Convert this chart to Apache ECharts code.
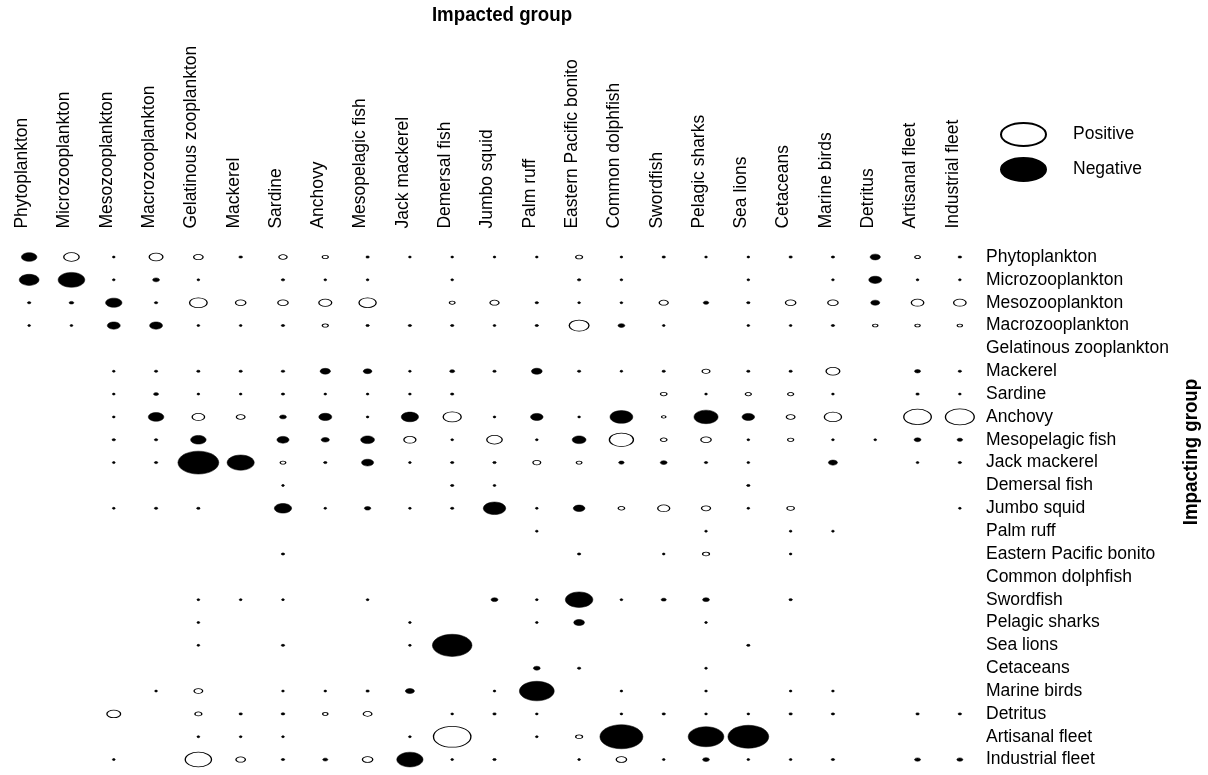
<!DOCTYPE html>
<html><head><meta charset="utf-8">
<script src="https://cdn.jsdelivr.net/npm/echarts@6/dist/echarts.min.js"></script>
<style>html,body{margin:0;padding:0;background:#fff}#c{width:1208px;height:775px}</style>
</head><body><div id="c"></div>
<script>
// Functional groups (impacted = columns, impacting = rows, same order)
const groups = ["Phytoplankton","Microzooplankton","Mesozooplankton","Macrozooplankton","Gelatinous zooplankton","Mackerel","Sardine","Anchovy","Mesopelagic fish","Jack mackerel","Demersal fish","Jumbo squid","Palm ruff","Eastern Pacific bonito","Common dolphfish","Swordfish","Pelagic sharks","Sea lions","Cetaceans","Marine birds","Detritus","Artisanal fleet","Industrial fleet"];

// Mixed trophic impact of each impacting group (row) on each impacted group (column)
const rowPhytoplankton   = [-0.36,0.36,-0.06,0.32,0.22,-0.09,0.19,0.14,-0.08,-0.06,-0.05,-0.06,-0.05,0.16,-0.05,-0.08,-0.06,-0.06,-0.08,-0.08,-0.24,0.13,-0.09];
const rowMicrozooplankton= [-0.46,-0.62,-0.05,-0.16,-0.05,0,-0.08,-0.05,-0.06,0,-0.06,0,0,-0.08,-0.05,0,0,-0.06,0,-0.06,-0.30,-0.06,-0.05];
const rowMesozooplankton = [-0.08,-0.11,-0.38,-0.08,0.41,0.24,0.24,0.30,0.40,0,0.13,0.21,-0.08,-0.06,-0.05,0.21,-0.13,-0.08,0.24,0.24,-0.21,0.29,0.29];
const rowMacrozooplankton= [-0.05,-0.05,-0.30,-0.30,-0.05,-0.05,-0.08,0.14,-0.08,-0.08,-0.08,-0.06,-0.08,0.46,-0.16,-0.05,0,-0.05,-0.05,-0.08,0.12,0.12,0.12];
const rowGelatinous      = [0,0,0,0,0,0,0,0,0,0,0,0,0,0,0,0,0,0,0,0,0,0,0];
const rowMackerel        = [0,0,-0.06,-0.08,-0.08,-0.08,-0.09,-0.24,-0.20,-0.05,-0.12,-0.08,-0.25,-0.08,-0.05,-0.08,0.18,-0.08,-0.08,0.32,0,-0.14,-0.08];
const rowSardine         = [0,0,-0.05,-0.12,-0.05,-0.06,-0.08,-0.05,-0.05,-0.06,-0.08,0,0,0,0,0.15,-0.05,0.14,0.14,-0.05,0,-0.08,-0.05];
const rowAnchovy         = [0,0,-0.06,-0.36,0.29,0.20,-0.16,-0.30,-0.05,-0.40,0.42,-0.05,-0.29,-0.05,-0.53,0.10,-0.56,-0.29,0.20,0.40,0,0.64,0.67];
const rowMesopelagic     = [0,0,-0.08,-0.08,-0.36,0,-0.28,-0.19,-0.32,0.28,-0.05,0.36,-0.06,-0.32,0.56,0.15,0.24,-0.05,0.14,-0.05,-0.06,-0.16,-0.13];
const rowJackMackerel    = [0,0,-0.05,-0.08,-0.95,-0.63,0.13,-0.08,-0.28,-0.05,-0.08,-0.08,0.18,0.13,-0.13,-0.16,-0.08,-0.05,0,-0.21,0,-0.05,-0.08];
const rowDemersal        = [0,0,0,0,0,0,-0.05,0,0,0,-0.08,-0.06,0,0,0,0,0,-0.08,0,0,0,0,0];
const rowJumboSquid      = [0,0,-0.06,-0.08,-0.08,0,-0.40,-0.06,-0.15,-0.05,-0.08,-0.52,-0.06,-0.27,0.15,0.28,0.21,-0.06,0.17,0,0,0,-0.06];
const rowPalmRuff        = [0,0,0,0,0,0,0,0,0,0,0,0,-0.05,0,0,0,-0.06,0,-0.05,-0.05,0,0,0];
const rowBonito          = [0,0,0,0,0,0,-0.08,0,0,0,0,0,0,-0.08,0,-0.05,0.16,0,-0.06,0,0,0,0];
const rowDolphfish       = [0,0,0,0,0,0,0,0,0,0,0,0,0,0,0,0,0,0,0,0,0,0,0];
const rowSwordfish       = [0,0,0,0,-0.06,-0.05,-0.05,0,-0.06,0,0,-0.16,-0.06,-0.64,-0.06,-0.12,-0.16,0,-0.08,0,0,0,0];
const rowPelagicSharks   = [0,0,0,0,-0.06,0,0,0,0,-0.06,0,0,-0.05,-0.25,0,0,-0.05,0,0,0,0,0,0];
const rowSeaLions        = [0,0,0,0,-0.05,0,-0.08,0,0,-0.05,-0.92,0,0,0,0,0,0,-0.08,0,0,0,0,0];
const rowCetaceans       = [0,0,0,0,0,0,0,0,0,0,0,0,-0.16,-0.08,0,0,-0.06,0,0,0,0,0,0];
const rowMarineBirds     = [0,0,0,-0.06,0.20,0,-0.06,-0.06,-0.08,-0.21,0,-0.06,-0.81,0,-0.06,0,-0.05,0,-0.06,-0.05,0,0,0];
const rowDetritus        = [0,0,0.32,0,0.16,-0.08,-0.09,0.12,0.20,0,-0.05,-0.08,-0.06,0,-0.06,-0.08,-0.05,-0.06,-0.08,-0.08,0,-0.08,-0.08];
const rowArtisanal       = [0,0,0,0,-0.05,-0.06,-0.05,0,0,-0.05,0.87,0,-0.05,0.16,-1.0,0,-0.83,-0.95,0,0,0,0,0];
const rowIndustrial      = [0,0,-0.06,0,0.61,0.22,-0.08,-0.12,0.24,-0.61,-0.05,-0.08,0,-0.05,0.24,-0.05,-0.16,-0.06,-0.06,-0.08,0,-0.14,-0.14];

const impactRows = [rowPhytoplankton,rowMicrozooplankton,rowMesozooplankton,rowMacrozooplankton,rowGelatinous,rowMackerel,rowSardine,rowAnchovy,rowMesopelagic,rowJackMackerel,rowDemersal,rowJumboSquid,rowPalmRuff,rowBonito,rowDolphfish,rowSwordfish,rowPelagicSharks,rowSeaLions,rowCetaceans,rowMarineBirds,rowDetritus,rowArtisanal,rowIndustrial];

const positiveData = [], negativeData = [];
impactRows.forEach((row, r) => row.forEach((v, c) => {
  if (v > 0) positiveData.push([c, r, v]);
  else if (v < 0) negativeData.push([c, r, v]);
}));

const ELLIPSE = 'path://M0,50C0,22.4 22.4,0 50,0C77.6,0 100,22.4 100,50C100,77.6 77.6,100 50,100C22.4,100 0,77.6 0,50Z';
const sizeFn = (val) => { const w = Math.max(2.8, 43 * Math.abs(val[2])); return [w, Math.max(2, w * 0.56)]; };
const FONT = 'Liberation Sans, Arial, sans-serif';
const BOLD = 'bold 21px "Liberation Sans", Arial, sans-serif';

const chart = echarts.init(document.getElementById('c'), null, {renderer: 'canvas'});
chart.setOption({
  animation: false,
  backgroundColor: '#fff',
  legend: {
    orient: 'vertical', left: 995, top: 117, itemWidth: 45, itemHeight: 23, itemGap: 10,
    icon: ELLIPSE, symbolKeepAspect: false,
    data: ['Positive', 'Negative'],
    textStyle: {fontFamily: FONT, fontSize: 17.5, color: '#000', padding: [0, 0, 0, 22]}
  },
  graphic: [
    {type: 'text', x: 502, y: 15, scaleX: 0.89,
     style: {text: 'Impacted group', font: BOLD, fill: '#000', textAlign: 'center', textVerticalAlign: 'middle'}},
    {type: 'text', x: 1191, y: 452, rotation: Math.PI / 2, scaleX: 0.89,
     style: {text: 'Impacting group', font: BOLD, fill: '#000', textAlign: 'center', textVerticalAlign: 'middle'}}
  ],
  grid: {left: 8, right: 227, top: 245.6, bottom: 4, containLabel: false},
  xAxis: {
    type: 'category', position: 'top', data: groups,
    axisLine: {show: false}, axisTick: {show: false}, splitLine: {show: false},
    axisLabel: {rotate: -90, interval: 0, margin: 17, verticalAlign: 'bottom', lineHeight: 14,
                fontFamily: FONT, fontSize: 17.5, color: '#000'}
  },
  yAxis: {
    type: 'category', position: 'right', inverse: true, data: groups,
    axisLine: {show: false}, axisTick: {show: false}, splitLine: {show: false},
    axisLabel: {interval: 0, margin: 5, fontFamily: FONT, fontSize: 17.5, color: '#000'}
  },
  series: [
    {name: 'Positive', type: 'scatter', symbol: ELLIPSE, symbolSize: sizeFn, data: positiveData, silent: true,
     itemStyle: {color: '#fff', borderColor: '#000', borderWidth: 1, opacity: 1}},
    {name: 'Negative', type: 'scatter', symbol: ELLIPSE, symbolSize: sizeFn, data: negativeData, silent: true,
     itemStyle: {color: '#000', borderColor: '#000', borderWidth: 0.5, opacity: 1}}
  ]
});
</script></body></html>
